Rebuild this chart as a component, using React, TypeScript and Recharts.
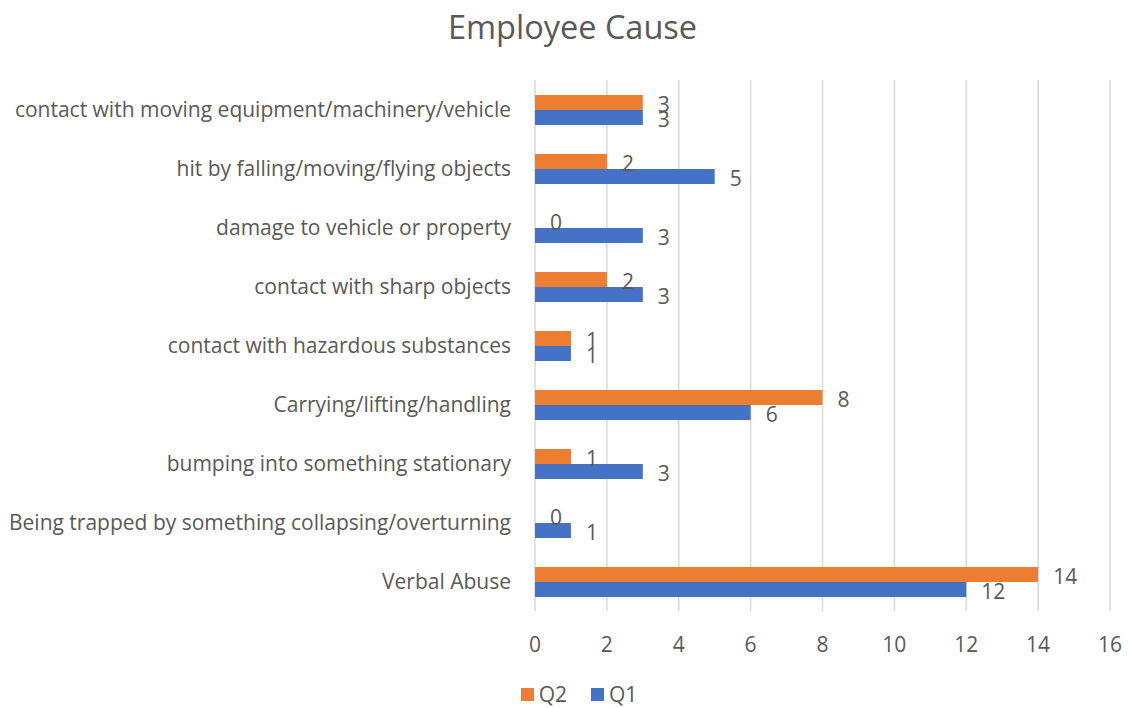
import React from 'react';
import { BarChart, Bar, XAxis, YAxis, CartesianGrid, Legend, LabelList } from 'recharts';

const categories = [
  'contact with moving equipment/machinery/vehicle',
  'hit by falling/moving/flying objects',
  'damage to vehicle or property',
  'contact with sharp objects',
  'contact with hazardous substances',
  'Carrying/lifting/handling',
  'bumping into something stationary',
  'Being trapped by something collapsing/overturning',
  'Verbal Abuse',
];
const q2Values = [3, 2, 0, 2, 1, 8, 1, 0, 14];
const q1Values = [3, 5, 3, 3, 1, 6, 3, 1, 12];
const xTicks = [0, 2, 4, 6, 8, 10, 12, 14, 16];
const seriesNames = ['Q2', 'Q1'];
const seriesColors = ['#ED7D31', '#4472C4'];

const data = categories.map((c, i) => ({ name: c, Q2: q2Values[i], Q1: q1Values[i] }));

const FONT = 'Open Sans, sans-serif';
const TEXT = '#595959';

const ValueLabel = (props: any) => {
  const { x, y, width, height, value } = props;
  return (
    <text
      x={Number(x) + Number(width) + 15}
      y={Number(y) + Number(height) / 2 + 1.5}
      textAnchor="start"
      dominantBaseline="central"
      fill={TEXT}
      fontSize={21}
      fontFamily={FONT}
    >
      {value}
    </text>
  );
};

const LegendContent = () => (
  <div style={{ display: 'flex', justifyContent: 'center', alignItems: 'center', paddingLeft: 48, paddingTop: 9, fontFamily: FONT, fontSize: 21, color: TEXT }}>
    {seriesNames.map((n, i) => (
      <div key={n} style={{ display: 'flex', alignItems: 'center', marginRight: i === 0 ? 24 : 0 }}>
        <span style={{ display: 'inline-block', width: 13, height: 13, background: seriesColors[i], marginRight: 5 }} />
        <span>{n}</span>
      </div>
    ))}
  </div>
);

export default function App() {
  return (
    <div style={{ position: 'absolute', left: 0, top: 0, width: 1129, height: 708, background: '#fff', fontFamily: FONT }}>
      <div
        style={{
          position: 'absolute',
          top: 4,
          left: 0,
          width: 1145,
          textAlign: 'center',
          fontSize: 32.5,
          color: TEXT,
          fontFamily: FONT,
        }}
      >
        Employee Cause
      </div>
      <BarChart
        width={1129}
        height={708}
        data={data}
        layout="vertical"
        margin={{ top: 80, right: 19, bottom: 0, left: 0 }}
        barGap={0}
      >
        <CartesianGrid horizontal={false} vertical={true} stroke="#D9D9D9" strokeWidth={1.5} />
        <XAxis
          type="number"
          domain={[0, 16]}
          ticks={xTicks}
          axisLine={false}
          tickLine={false}
          tickSize={0}
          tickMargin={26}
          height={60}
          tick={{ fill: TEXT, fontSize: 21, fontFamily: FONT }}
        />
        <YAxis
          type="category"
          dataKey="name"
          width={535}
          axisLine={false}
          tickLine={false}
          tickSize={0}
          tickMargin={24}
          interval={0}
          tick={{ fill: TEXT, fontSize: 21, fontFamily: FONT }}
        />
        <Legend verticalAlign="bottom" align="center" height={37} content={LegendContent} />
        <Bar dataKey="Q2" name="Q2" fill={seriesColors[0]} barSize={15} minPointSize={0.001} isAnimationActive={false}>
          <LabelList dataKey="Q2" content={ValueLabel} />
        </Bar>
        <Bar dataKey="Q1" name="Q1" fill={seriesColors[1]} barSize={15} minPointSize={0.001} isAnimationActive={false}>
          <LabelList dataKey="Q1" content={ValueLabel} />
        </Bar>
      </BarChart>
    </div>
  );
}
